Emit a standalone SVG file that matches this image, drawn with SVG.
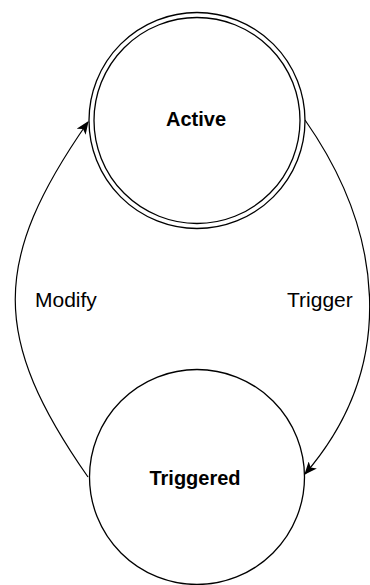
<svg xmlns="http://www.w3.org/2000/svg" width="370" height="585" viewBox="0 0 370 585">
<style>
.node{fill:#fff;stroke:#000;stroke-width:1.3}
.edge{fill:none;stroke:#000;stroke-width:1.2}
.t{font-family:"Liberation Sans",Arial,sans-serif;font-size:20px;fill:#000}
.l{font-size:21px}
.b{font-weight:bold;text-anchor:middle}
</style>
<defs>
<marker id="arr" viewBox="0 0 12 10" refX="11" refY="5" markerWidth="13" markerHeight="11" markerUnits="userSpaceOnUse" orient="auto">
<path d="M0,0 L12,5 L0,10 L3,5 Z" fill="#000"/>
</marker>
</defs>
<rect width="370" height="585" fill="#fff"/>
<g id="active">
<circle class="node" cx="197" cy="120.5" r="108"/>
<circle class="node" cx="197" cy="120.5" r="103"/>
<text class="t b" x="196" y="126">Active</text>
</g>
<g id="triggered">
<circle class="node" cx="197" cy="477" r="107.5"/>
<text class="t b" x="195" y="485">Triggered</text>
</g>
<g id="connectors">
<path class="edge" d="M88,477 C-9,338 -9,261 88,122" marker-end="url(#arr)"/>
<path class="edge" d="M305,120 C382,230 400,364 305,474" marker-end="url(#arr)"/>
<text class="t l" x="35" y="307">Modify</text>
<text class="t l" x="287" y="307">Trigger</text>
</g>
</svg>
